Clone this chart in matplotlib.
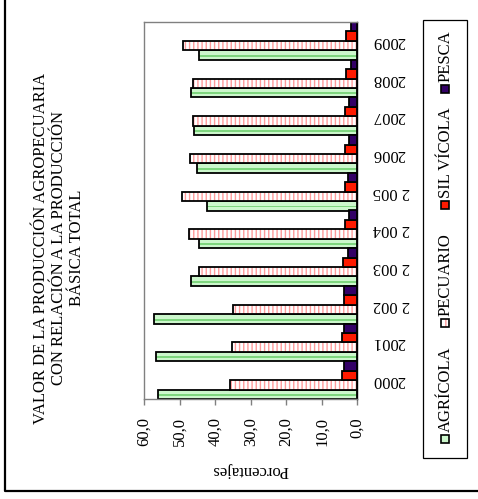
import matplotlib
matplotlib.use("Agg")
import matplotlib.pyplot as plt
import numpy as np
from matplotlib.patches import Rectangle
from matplotlib.lines import Line2D

plt.rcParams['font.family'] = ['Liberation Serif', 'DejaVu Serif']
plt.rcParams['hatch.linewidth'] = 1.0

# datos (porcentajes)
years = ['2000', '2001', '2 002', '2 003', '2 004', '2 005', '2006', '2007', '2008', '2009']
agricola = [56.1, 56.6, 57.2, 46.9, 44.6, 42.2, 45.0, 45.9, 46.9, 44.6]
pecuario = [35.7, 35.3, 35.1, 44.6, 47.4, 49.4, 47.0, 46.1, 46.1, 48.9]
silvicola = [4.3, 4.3, 3.8, 3.9, 3.6, 3.6, 3.6, 3.6, 3.3, 3.3]
pesca = [3.8, 3.8, 3.8, 2.7, 2.3, 2.5, 2.3, 2.3, 1.8, 1.8]
ticks = [60, 50, 40, 30, 20, 10, 0]
tick_labels = ['60,0', '50,0', '40,0', '30,0', '20,0', '10,0', '0,0']
series = ['AGRÍCOLA', 'PECUARIO', 'SIL VÍCOLA', 'PESCA']

W, H = 478, 499
fig = plt.figure(figsize=(W / 100, H / 100), dpi=100)
ax = fig.add_axes([144 / W, 1 - 399 / H, (357.3 - 144) / W, (399 - 22) / H])

y = np.arange(len(years))
h = 0.25
ew = 1.3

# AGRICOLA: verde claro con franja central
ax.barh(y - 1.5 * h, agricola, height=h, color='#ccf7cc', linewidth=0)
ax.barh(y - 1.5 * h - 0.02, agricola, height=h * 0.2, color='#7fd67f', linewidth=0)
ax.barh(y - 1.5 * h, agricola, height=h, fill=False, edgecolor='black', linewidth=ew)
# PECUARIO: blanco con rayas rosadas
ax.barh(y - 0.5 * h, pecuario, height=h, facecolor='white', edgecolor='#ff9a9a',
        hatch='||||', linewidth=0)
ax.barh(y - 0.5 * h, pecuario, height=h, fill=False, edgecolor='black', linewidth=ew)
# SILVICOLA
ax.barh(y + 0.5 * h, silvicola, height=h, color='#ff1a00', edgecolor='black', linewidth=ew)
# PESCA
ax.barh(y + 1.5 * h, pesca, height=h, color='#330066', edgecolor='black', linewidth=ew)

ax.set_xlim(60, 0)
ax.set_ylim(-0.5, len(years) - 0.5)

ax.set_xticks(ticks)
ax.set_xticklabels(tick_labels, rotation=90, fontsize=12)
ax.tick_params(axis='x', direction='out', length=4, width=1, color='#808080', pad=9)

ax.yaxis.tick_right()
ax.set_yticks(y)
ax.set_yticklabels(years, rotation=180, fontsize=12, va='center')
ax.tick_params(axis='y', length=0, pad=11)

for s in ['left', 'top', 'bottom']:
    ax.spines[s].set_color('#808080')
    ax.spines[s].set_linewidth(1)
ax.spines['right'].set_color('black')
ax.spines['right'].set_linewidth(1)

fig.text(250.5 / W, 1 - 470 / H, 'Porcentajes', rotation=180, fontsize=12,
         ha='center', va='center')

fig.text(59 / W, 1 - 248 / H,
         'VALOR DE LA PRODUCCIÓN AGROPECUARIA\nCON RELACIÓN A LA PRODUCCIÓN\nBÁSICA TOTAL',
         rotation=90, fontsize=12, ha='center', va='center', multialignment='center',
         linespacing=1.2)

# leyenda dibujada a mano (rotada)
fig.add_artist(Rectangle((423 / W, 1 - 458 / H), 44 / W, 438 / H, transform=fig.transFigure,
                         fill=False, edgecolor='black', linewidth=0.9))
sq_y = [439, 323, 205, 89]
sq_styles = [dict(facecolor='#ccf7cc'),
             dict(facecolor='white', hatch='||', edgecolor='#ff9a9a'),
             dict(facecolor='#ff1a00'),
             dict(facecolor='#330066')]
sq = 8
for name, yy, st in zip(series, sq_y, sq_styles):
    fig.add_artist(Rectangle(((445 - sq / 2) / W, 1 - (yy + sq / 2) / H), sq / W, sq / H,
                             transform=fig.transFigure, linewidth=0, **st))
    fig.add_artist(Rectangle(((445 - sq / 2) / W, 1 - (yy + sq / 2) / H), sq / W, sq / H,
                             transform=fig.transFigure, fill=False, edgecolor='black',
                             linewidth=1.2))
    fig.text(446 / W, 1 - (yy - 7) / H, name, rotation=90, fontsize=12,
             ha='center', va='bottom')

# marco exterior (solo izquierda y abajo)
fig.add_artist(Line2D([4.5 / W, 4.5 / W, 1], [1, 1 - 491 / H, 1 - 491 / H],
                      transform=fig.transFigure, color='black', linewidth=1.6))

fig.savefig('out.png', dpi=100)
